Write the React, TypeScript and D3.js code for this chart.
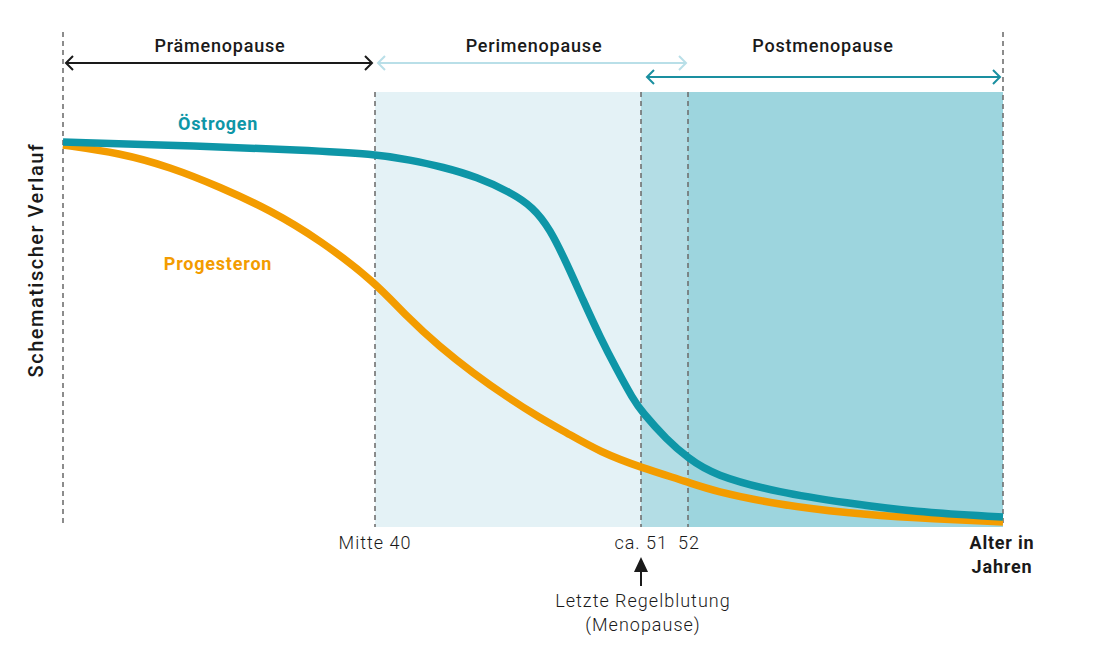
import React from "react";
import * as d3 from "d3";

// position along the schematic time axis (0 = start, 940 = end) and schematic level (0 = bottom)
const oestrogenX = [0, 137, 237, 312, 347, 380, 414, 447, 470, 487, 504, 520, 537, 554, 570, 579, 604, 625, 650, 717, 784, 850, 940];
const oestrogenY = [385, 381, 377, 373, 367, 360, 350, 335, 320, 298, 263, 227, 190, 157, 128, 115, 87, 69, 52, 34, 24, 15, 10];
const progesteronX = [0, 57, 107, 157, 207, 257, 312, 344, 377, 410, 444, 477, 504, 537, 579, 625, 650, 717, 784, 850, 940];
const progesteronY = [382, 374, 360, 340, 317, 287, 245, 210, 180, 154, 130, 109, 94, 75, 59, 45, 36, 22, 14, 9, 5];

const markers = [0, 312, 578, 625, 940];
const phases = [
  { name: "Prämenopause", from: 0, to: 312 },
  { name: "Perimenopause", from: 312, to: 625 },
  { name: "Postmenopause", from: 585, to: 940 },
];
const tickLabels = ["Mitte 40", "ca. 51", "52"];

export default function App() {
  const W = 1096, H = 663;
  const x = d3.scaleLinear().domain([0, 940]).range([63, 1003]);
  const y = d3.scaleLinear().domain([0, 435]).range([527, 92]);

  const line = d3
    .line<[number, number]>()
    .x((d) => x(d[0]))
    .y((d) => y(d[1]))
    .curve(d3.curveBasis);

  const oe = oestrogenX.map((v, i) => [v, oestrogenY[i]] as [number, number]);
  const pr = progesteronX.map((v, i) => [v, progesteronY[i]] as [number, number]);

  const font = "Roboto, 'Open Sans', sans-serif";
  const top = y(435), bottom = y(0);

  const arrow = (x1: number, x2: number, yy: number, color: string, key: string) => (
    <g key={key} stroke={color} strokeWidth={2} fill="none">
      <line x1={x1} x2={x2} y1={yy} y2={yy} />
      <polyline points={`${x1 + 7},${yy - 7} ${x1},${yy} ${x1 + 7},${yy + 7}`} />
      <polyline points={`${x2 - 7},${yy - 7} ${x2},${yy} ${x2 - 7},${yy + 7}`} />
    </g>
  );

  return (
    <svg width={W} height={H} style={{ position: "absolute", left: 0, top: 0, background: "#fff" }}>
      {/* shaded phases */}
      <rect x={x(markers[1])} y={top} width={x(markers[2]) - x(markers[1])} height={bottom - top} fill="#e4f2f6" />
      <rect x={x(markers[2])} y={top} width={x(markers[3]) - x(markers[2])} height={bottom - top} fill="#b3dde5" />
      <rect x={x(markers[3])} y={top} width={x(markers[4]) - x(markers[3])} height={bottom - top} fill="#9dd5de" />

      {/* dashed marker lines */}
      {markers.map((m, i) => (
        <line
          key={i}
          x1={x(m)}
          x2={x(m)}
          y1={i === 0 || i === 4 ? 32 : top}
          y2={bottom}
          stroke="#707070"
          strokeWidth={1.6}
          strokeDasharray="5,4"
        />
      ))}

      {/* curves */}
      <path d={line(pr) || ""} fill="none" stroke="#f39c00" strokeWidth={7.5} />
      <path d={line(oe) || ""} fill="none" stroke="#0e96a7" strokeWidth={7.5} />

      {/* phase arrows */}
      {arrow(x(phases[0].from) + 3, x(phases[0].to) - 3, 63, "#1a1a1a", "a0")}
      {arrow(x(phases[1].from) + 3, x(phases[1].to) - 2, 63, "#b9dfe8", "a1")}
      {arrow(x(phases[2].from) - 1, x(phases[2].to) - 3, 77, "#1a8fa0", "a2")}
      <g fontFamily={font} fontSize={18} fontWeight={500} fill="#1a1a1a" textAnchor="middle" letterSpacing={0.8}>
        <text x={220} y={52}>{phases[0].name}</text>
        <text x={534} y={52}>{phases[1].name}</text>
        <text x={823} y={52}>{phases[2].name}</text>
      </g>

      {/* series labels */}
      <text x={218} y={130} fontFamily={font} fontSize={18} fontWeight={700} fill="#0e96a7" textAnchor="middle" letterSpacing={0.7}>Östrogen</text>
      <text x={218} y={270} fontFamily={font} fontSize={18} fontWeight={700} fill="#f39c00" textAnchor="middle" letterSpacing={0.8}>Progesteron</text>

      {/* y label */}
      <text
        transform="translate(43,260) rotate(-90)"
        fontFamily={font}
        fontSize={20}
        fontWeight={500}
        fill="#1a1a1a"
        textAnchor="middle"
        letterSpacing={1.5}
      >
        Schematischer Verlauf
      </text>

      {/* x tick labels */}
      <g fontFamily={font} fontSize={18} fontWeight={300} fill="#1a1a1a" letterSpacing={1}>
        <text x={x(markers[1])} y={549} textAnchor="middle">{tickLabels[0]}</text>
        <text x={x(markers[2]) + 27} y={549} textAnchor="end">{tickLabels[1]}</text>
        <text x={x(markers[3]) + 1} y={549} textAnchor="middle">{tickLabels[2]}</text>
        <text x={x(markers[2]) + 2} y={607} textAnchor="middle">Letzte Regelblutung</text>
        <text x={x(markers[2]) + 2} y={631} textAnchor="middle">(Menopause)</text>
      </g>
      <g fontFamily={font} fontSize={18} fontWeight={700} fill="#1a1a1a" textAnchor="middle" letterSpacing={0.8}>
        <text x={1002} y={549}>Alter in</text>
        <text x={1002} y={573}>Jahren</text>
      </g>

      {/* menopause arrow */}
      <polygon points={`${x(markers[2])},557 ${x(markers[2]) - 7},572 ${x(markers[2]) + 7},572`} fill="#1a1a1a" />
      <line x1={x(markers[2])} x2={x(markers[2])} y1={570} y2={586} stroke="#1a1a1a" strokeWidth={2} />
    </svg>
  );
}
